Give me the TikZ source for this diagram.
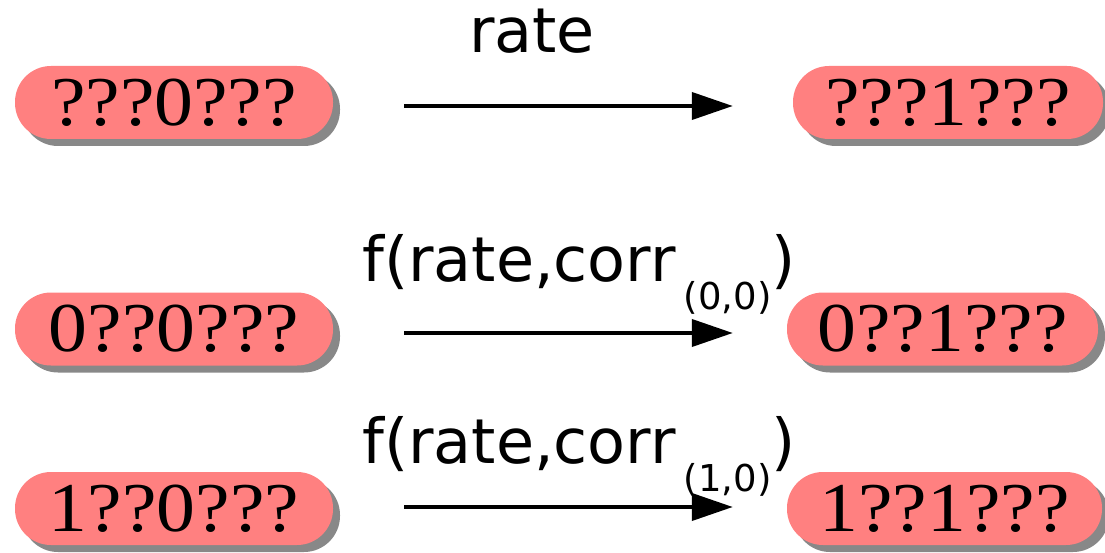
\documentclass[tikz,border=0pt]{standalone}
\usepackage{fontspec}
\usepackage{graphicx}
\setmainfont{Liberation Serif}
\newfontfamily\labfont{DejaVu Sans}
\usetikzlibrary{arrows.meta,shadows}
\definecolor{pill}{HTML}{FF8080}
\definecolor{shade}{HTML}{888888}
\tikzset{
  state/.style={draw=none, fill=pill, rounded corners=36pt, minimum height=73pt,
    inner sep=0pt, font=\fontsize{70}{70}\selectfont,
    drop shadow={shadow xshift=7pt, shadow yshift=-7pt, fill=shade, opacity=1}},
  trans/.style={line width=4pt, -{Triangle[length=41pt,width=27pt]}},
  lab/.style={inner sep=0pt, anchor=base, font=\labfont\fontsize{62}{62}\selectfont},
}
\newcommand{\st}[1]{\scalebox{1.11}[1]{#1}}
\newcommand{\subl}[1]{\hspace{8pt}\raisebox{-28pt}{\fontsize{37}{37}\selectfont #1}}
\begin{document}
\begin{tikzpicture}[x=1pt,y=-1pt]
\useasboundingbox (0,0) rectangle (1105,553);
\node[state, minimum width=318pt] (a1) at (174,102.5) {\st{???0???}};
\node[state, minimum width=310pt] (b1) at (948,102.5) {\st{???1???}};
\node[state, minimum width=318pt] (a2) at (174,329) {\st{0??0???}};
\node[state, minimum width=311pt] (b2) at (942.5,329) {\st{0??1???}};
\node[state, minimum width=318pt] (a3) at (174,508.5) {\st{1??0???}};
\node[state, minimum width=315pt] (b3) at (944.5,508.5) {\st{1??1???}};
\draw[trans, shorten <=71pt, shorten >=60pt] ([yshift=-3.5pt]a1.east) -- ([yshift=-3.5pt]b1.west);
\draw[trans, shorten <=71pt, shorten >=54pt] ([yshift=-4pt]a2.east) -- ([yshift=-4pt]b2.west);
\draw[trans, shorten <=71pt, shorten >=54pt] ([yshift=1.5pt]a3.east) -- ([yshift=1.5pt]b3.west);
\node[lab] (l1) at (532,53) {rate};
\node[lab, anchor=base west] (l2) at (362,282) {f(rate,corr\subl{(0,0)})};
\node[lab, anchor=base west] (l3) at (362,463) {f(rate,corr\subl{(1,0)})};
\end{tikzpicture}
\end{document}
